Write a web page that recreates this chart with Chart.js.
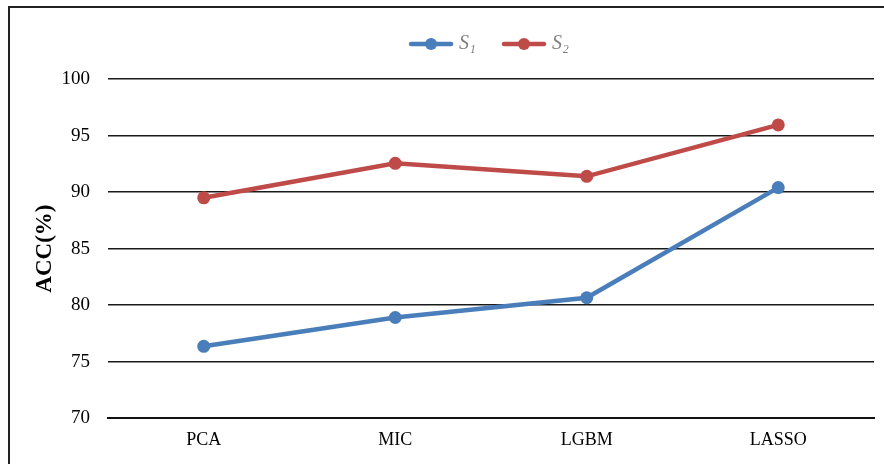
<!DOCTYPE html>
<html>
<head>
<meta charset="utf-8">
<script src="https://cdn.jsdelivr.net/npm/chart.js@4.4.1/dist/chart.umd.min.js"></script>
<style>
  html, body { margin: 0; padding: 0; background: #ffffff; }
  #wrap { width: 884px; height: 464px; }
</style>
</head>
<body>
<div id="wrap"><canvas id="chartjs-0" width="884" height="464"></canvas></div>
<script>
// chart values
var methods = ["PCA", "MIC", "LGBM", "LASSO"];
var s1Values = [76.35, 78.9, 80.65, 90.4];
var s2Values = [89.5, 92.55, 91.4, 95.95];
var seriesNames = ["S\u2081", "S\u2082"];
var yTicks = [70, 75, 80, 85, 90, 95, 100];

var blue = "#4A7EBB";
var red = "#BE4B48";
var serif = "'Liberation Serif', 'Times New Roman', serif";

/* little line + dot picture for the legend entries */
function legendMarker(color) {
    var c = document.createElement("canvas");
    c.width = 46;
    c.height = 14;
    var g = c.getContext("2d");
    g.strokeStyle = color;
    g.lineWidth = 4.5;
    g.lineCap = "round";
    g.beginPath();
    g.moveTo(3, 7);
    g.lineTo(43, 7);
    g.stroke();
    g.fillStyle = color;
    g.beginPath();
    g.arc(23, 7, 6, 0, Math.PI * 2);
    g.fill();
    return c;
}

/* outer frame, only top and left edges show in the picture */
var framePlugin = {
    id: "frame",
    beforeDraw: function(chart) {
        var ctx = chart.ctx;
        ctx.save();
        ctx.fillStyle = "#ffffff";
        ctx.fillRect(0, 0, chart.width, chart.height);
        ctx.strokeStyle = "#222222";
        ctx.lineWidth = 2;
        ctx.beginPath();
        ctx.moveTo(9, chart.height);
        ctx.lineTo(9, 7);
        ctx.lineTo(chart.width, 7);
        ctx.stroke();
        ctx.restore();
    }
};

var ctx0 = document.getElementById("chartjs-0");
var myChart = new Chart(ctx0, {
    type: "line",
    data: {
        labels: methods,
        datasets: [
            {
                label: seriesNames[0],
                data: s1Values,
                borderColor: blue,
                backgroundColor: blue,
                borderWidth: 4.5,
                pointRadius: 6.5,
                pointBorderWidth: 0,
                pointStyle: "circle",
                tension: 0,
                fill: false
            },
            {
                label: seriesNames[1],
                data: s2Values,
                borderColor: red,
                backgroundColor: red,
                borderWidth: 4.5,
                pointRadius: 6.5,
                pointBorderWidth: 0,
                pointStyle: "circle",
                tension: 0,
                fill: false
            }
        ]
    },
    options: {
        responsive: false,
        animation: false,
        layout: { padding: { top: 4, right: 10, left: 0, bottom: 0 } },
        plugins: {
            tooltip: { enabled: false },
            /* empty subtitle only used as a spacer between legend and plot */
            subtitle: {
                display: true,
                text: "",
                position: "top",
                weight: 500,
                font: { size: 1 },
                padding: { top: 0, bottom: 14 }
            },
            legend: {
                position: "top",
                fullSize: false,
                weight: 3000,
                labels: {
                    usePointStyle: true,
                    pointStyleWidth: 36,
                    padding: 30,
                    color: "#808080",
                    font: { family: serif, size: 20, style: "italic" },
                    generateLabels: function(chart) {
                        return chart.data.datasets.map(function(ds, i) {
                            return {
                                text: ds.label,
                                pointStyle: legendMarker(ds.borderColor),
                                fillStyle: ds.borderColor,
                                strokeStyle: ds.borderColor,
                                lineWidth: 0,
                                fontColor: "#808080",
                                hidden: false,
                                datasetIndex: i
                            };
                        });
                    }
                }
            }
        },
        scales: {
            x: {
                offset: true,
                grid: { display: false, drawTicks: false },
                border: { display: true, color: "#111111", width: 2 },
                ticks: {
                    padding: 11,
                    color: "#000000",
                    font: { family: serif, size: 18 }
                },
                afterFit: function(scale) { scale.height = 46; }
            },
            y: {
                min: 70,
                max: 100,
                afterBuildTicks: function(scale) {
                    scale.ticks = yTicks.map(function(v) { return { value: v }; });
                },
                grid: { color: "#1a1a1a", lineWidth: 1.5, drawTicks: false },
                border: { display: false },
                ticks: {
                    padding: 18,
                    color: "#000000",
                    font: { family: serif, size: 19 }
                },
                title: {
                    display: true,
                    text: "ACC(%)",
                    color: "#000000",
                    padding: { top: 31, bottom: 0 },
                    font: { family: serif, size: 23, weight: "bold" }
                },
                afterFit: function(scale) { scale.width = 108; }
            }
        }
    },
    plugins: [framePlugin]
});
</script>
</body>
</html>
